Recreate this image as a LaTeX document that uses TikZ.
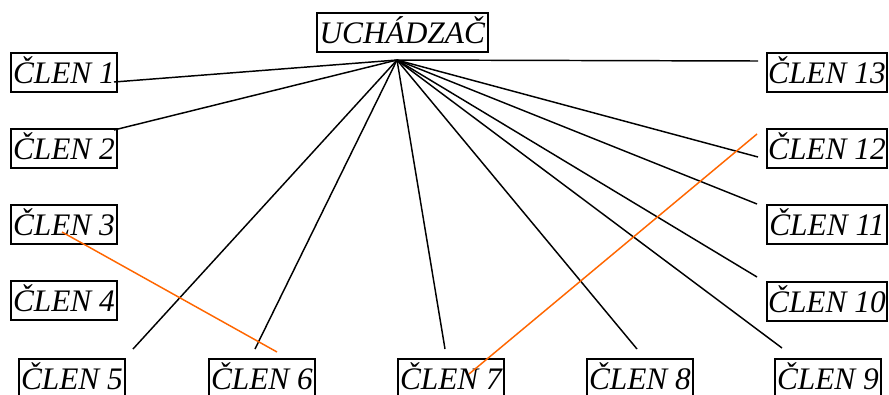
\documentclass[tikz,border=0pt]{standalone}
\usepackage{fontspec}
\setmainfont{Liberation Serif}
\begin{document}
\begin{tikzpicture}[x=0.75pt,y=-0.75pt,
  box/.style={draw,line width=1.4pt,inner xsep=0pt,inner ysep=0pt,
    text height=23pt,text depth=6pt,
    anchor=north west,font=\fontsize{23.5}{26}\selectfont\itshape},
  one/.style={box,minimum width=79.5pt},
  two/.style={box,minimum width=90pt},
  link/.style={line width=1.1pt},
  cross/.style={line width=1.1pt,draw={rgb,255:red,255;green,102;blue,0}}]
\useasboundingbox (0,0) rectangle (889,394);

% candidate and members
\node[box,minimum width=128pt] (u) at (316,12) {UCHÁDZAČ};
\node[one] (c1) at (10,52) {ČLEN 1};
\node[one] (c2) at (10,128) {ČLEN 2};
\node[one] (c3) at (10,204) {ČLEN 3};
\node[one] (c4) at (10,280) {ČLEN 4};
\node[one] (c5) at (18,358) {ČLEN 5};
\node[one] (c6) at (208,358) {ČLEN 6};
\node[one] (c7) at (397,358) {ČLEN 7};
\node[one] (c8) at (586,358) {ČLEN 8};
\node[one] (c9) at (774,358) {ČLEN 9};
\node[two] (c10) at (766,281) {ČLEN 10};
\node[two] (c11) at (766,204) {ČLEN 11};
\node[two] (c12) at (766,128) {ČLEN 12};
\node[two] (c13) at (766,52) {ČLEN 13};

% line ends
\coordinate (hub) at (397,60);
\coordinate (e1) at (114,82);
\coordinate (e2) at (114,130);
\coordinate (e5) at (133,349);
\coordinate (e6) at (255,349);
\coordinate (e7) at (445,349);
\coordinate (e8) at (637,349);
\coordinate (e9) at (782,348);
\coordinate (e10) at (757,277);
\coordinate (e11) at (757,204);
\coordinate (e12) at (758,157);
\coordinate (e13) at (758,61);
\coordinate (o3) at (62,232);
\coordinate (o6) at (277,352);
\coordinate (o7) at (469,374);
\coordinate (o12) at (757,134);

% links from the candidate
\foreach \e in {e1,e2,e5,e6,e7,e8,e9,e10,e11,e12,e13}
  \draw[link] (hub) -- (\e);

% crossing links
\draw[cross] (o3) -- (o6);
\draw[cross] (o7) -- (o12);
\end{tikzpicture}
\end{document}
